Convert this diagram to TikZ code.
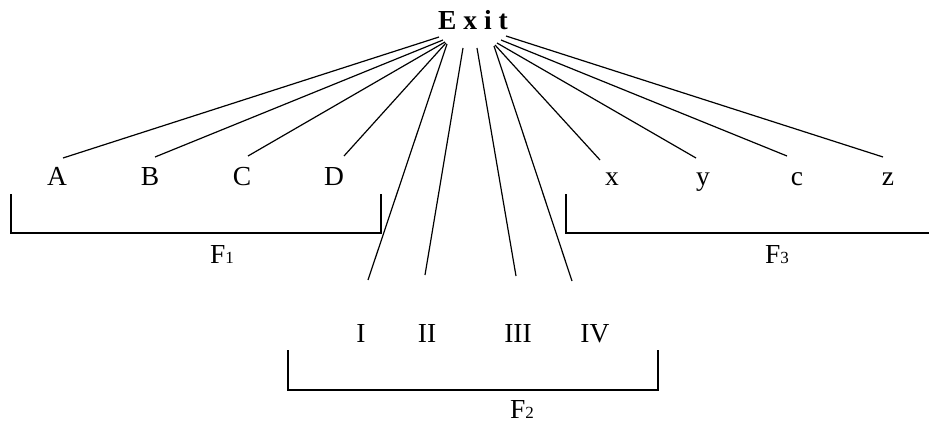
\documentclass[tikz,border=0pt]{standalone}
\usepackage{fontspec}
\setmainfont{Liberation Serif}
\begin{document}
\begin{tikzpicture}[x=1pt,y=-1pt,
  lbl/.style={anchor=base,inner sep=0pt,font=\fontsize{27.5}{30}\selectfont},
  ttl/.style={anchor=base,inner sep=0pt,font=\fontsize{27.5}{30}\selectfont\bfseries},
  conn/.style={line width=1.2pt},
  brk/.style={line width=2.4pt}]
\useasboundingbox (0,0) rectangle (929,425);
\newcommand{\fsub}[1]{F{\fontsize{17}{20}\selectfont #1}}
% title
\node[ttl] (exit) at (473,30) {E x i t};
% start points
\coordinate (sA) at (439,37);
\coordinate (sB) at (443,40);
\coordinate (sC) at (445,42);
\coordinate (sD) at (446,43);
\coordinate (sI) at (447,44);
\coordinate (sII) at (463,48);
\coordinate (sIII) at (477,48);
\coordinate (sIV) at (494,46);
\coordinate (sx) at (495,45);
\coordinate (sy) at (497,43);
\coordinate (sc) at (501,40);
\coordinate (sz) at (506,36);
% end points
\coordinate (eA) at (63,158);
\coordinate (eB) at (155,157);
\coordinate (eC) at (248,156);
\coordinate (eD) at (344,156);
\coordinate (eI) at (368,280);
\coordinate (eII) at (425,275);
\coordinate (eIII) at (516,276);
\coordinate (eIV) at (572,281);
\coordinate (ex) at (600,160);
\coordinate (ey) at (696,158);
\coordinate (ec) at (787,156);
\coordinate (ez) at (883,157);
% labels
\node[lbl] (A) at (57,185) {A};
\node[lbl] (B) at (150,185) {B};
\node[lbl] (C) at (242,185) {C};
\node[lbl] (D) at (334,185) {D};
\node[lbl] (x) at (612,185) {x};
\node[lbl] (y) at (703,185) {y};
\node[lbl] (c) at (797,185) {c};
\node[lbl] (z) at (888,185) {z};
\node[lbl] (I) at (361,342) {I};
\node[lbl] (II) at (427,342) {II};
\node[lbl] (III) at (518,342) {III};
\node[lbl] (IV) at (595,342) {IV};
\node[lbl] (F1) at (222,263) {\fsub{1}};
\node[lbl] (F3) at (777,263) {\fsub{3}};
\node[lbl] (F2) at (522,418) {\fsub{2}};
% connectors
\foreach \n in {A,B,C,D,I,II,III,IV,x,y,c,z}
  \draw[conn] (s\n) -- (e\n);
% brackets
\draw[brk] (11,194) -- (11,233) -- (381,233) -- (381,194);
\draw[brk] (566,194) -- (566,233) -- (929,233);
\draw[brk] (288,350) -- (288,390) -- (658,390) -- (658,350);
\end{tikzpicture}
\end{document}
